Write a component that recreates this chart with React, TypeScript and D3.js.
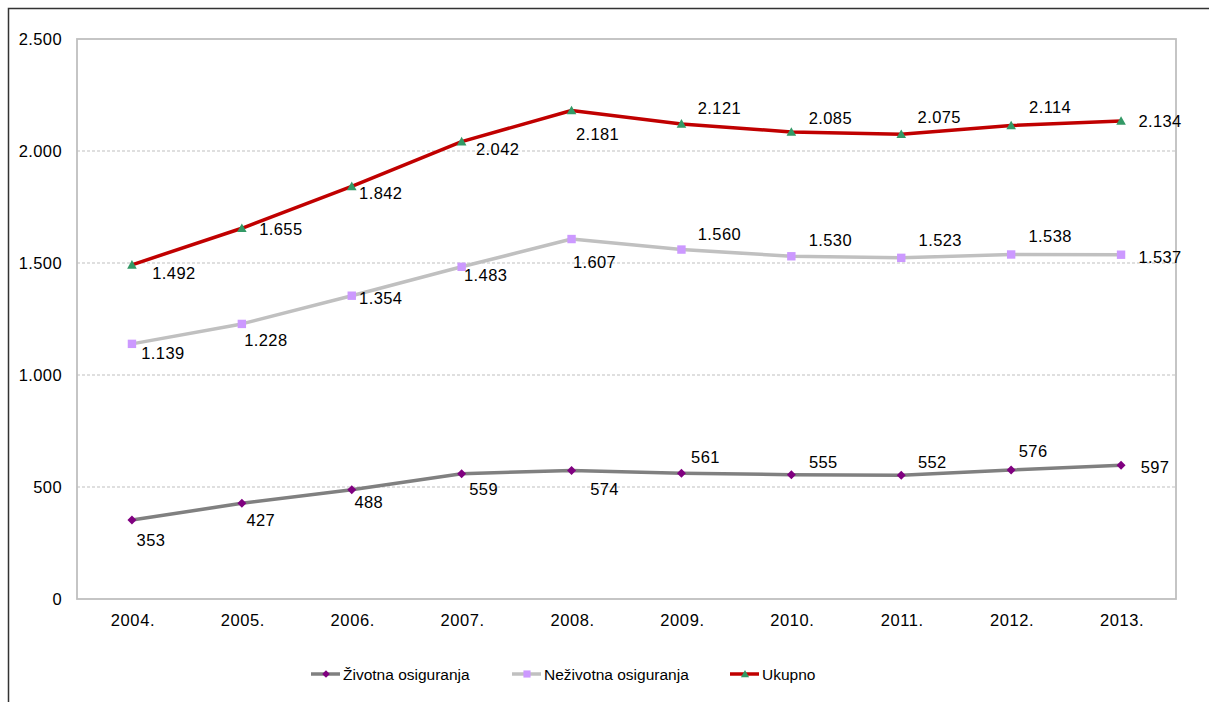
import React from "react";
import * as d3 from "d3";

const years = ["2004.", "2005.", "2006.", "2007.", "2008.", "2009.", "2010.", "2011.", "2012.", "2013."];
const zivotna = [353, 427, 488, 559, 574, 561, 555, 552, 576, 597];
const nezivotna = [1139, 1228, 1354, 1483, 1607, 1560, 1530, 1523, 1538, 1537];
const ukupno = [1492, 1655, 1842, 2042, 2181, 2121, 2085, 2075, 2114, 2134];
const yTicks = [0, 500, 1000, 1500, 2000, 2500];
const seriesNames = ["Životna osiguranja", "Neživotna osiguranja", "Ukupno"];

// label placement offsets (layout only)
const zivOff: [number, number][] = [[19, 20], [19, 17], [17, 12], [22, 15], [33, 19], [24, -16], [32, -13], [31, -13], [22, -19], [34, 2]];
const nezOff: [number, number][] = [[31, 9], [24, 16], [29, 2], [24, 8], [23, 23], [38, -16], [39, -16], [39, -18], [39, -18], [39, 2]];
const ukuOff: [number, number][] = [[42, 8], [39, 1], [29, 7], [36, 7], [26, 24], [38, -16], [39, -14], [38, -17], [39, -18], [39, 0]];

const fmt = (v: number) => {
  const s = String(v);
  return s.length > 3 ? s.slice(0, s.length - 3) + "." + s.slice(s.length - 3) : s;
};

const W = 1209, H = 702;
const L = 77, R = 1176, T = 39, B = 599;
const FONT = "'Liberation Sans', Arial, sans-serif";

function Marker({ type, x, y, s = 1 }: { type: string; x: number; y: number; s?: number }) {
  if (type === "diamond") {
    const r = 4.5 * s;
    return <path d={`M${x},${y - r}L${x + r},${y}L${x},${y + r}L${x - r},${y}Z`} fill="#800080" />;
  }
  if (type === "square") {
    const r = 4.2 * s;
    return <rect x={x - r} y={y - r} width={2 * r} height={2 * r} fill="#CC99FF" />;
  }
  const r = 4.8 * s;
  return <path d={`M${x},${y - r}L${x + r},${y + r * 0.8}L${x - r},${y + r * 0.8}Z`} fill="#339966" />;
}

export default function App() {
  const x = d3.scalePoint<string>().domain(years).range([L, R]).padding(0.5);
  const y = d3.scaleLinear().domain([0, 2500]).range([B, T]);
  const line = d3
    .line<number>()
    .x((_, i) => x(years[i]) as number)
    .y((d) => y(d));

  const series = [
    { name: seriesNames[0], data: zivotna, color: "#808080", marker: "diamond", off: zivOff },
    { name: seriesNames[1], data: nezivotna, color: "#C0C0C0", marker: "square", off: nezOff },
    { name: seriesNames[2], data: ukupno, color: "#C00000", marker: "triangle", off: ukuOff },
  ];

  const legendX = [311, 512, 730];

  return (
    <svg width={W} height={H} style={{ position: "absolute", left: 0, top: 0, display: "block", background: "#fff" }} fontFamily={FONT}>
      <rect x={0} y={0} width={W} height={H} fill="#fff" />
      <rect x={8.5} y={8.5} width={W + 20} height={H + 20} fill="none" stroke="#333" strokeWidth={1.5} />
      {yTicks.slice(1, -1).map((t) => (
        <line key={t} x1={L} x2={R} y1={y(t)} y2={y(t)} stroke="#BFBFBF" strokeWidth={1} strokeDasharray="3,2" />
      ))}
      <rect x={L} y={T} width={R - L} height={B - T} fill="none" stroke="#BFBFBF" strokeWidth={1.8} />
      {yTicks.map((t) => (
        <text key={t} x={62} y={y(t)} textAnchor="end" dominantBaseline="central" fontSize={16.5} letterSpacing={0.4} fill="#000">
          {fmt(t)}
        </text>
      ))}
      {years.map((yr) => (
        <text key={yr} x={(x(yr) as number) + 1} y={620} textAnchor="middle" dominantBaseline="central" fontSize={16.5} letterSpacing={0.6} fill="#000">
          {yr}
        </text>
      ))}
      {series.map((s) => (
        <g key={s.name}>
          <path d={line(s.data) as string} fill="none" stroke={s.color} strokeWidth={3.5} strokeLinejoin="round" />
          {s.data.map((v, i) => (
            <Marker key={i} type={s.marker} x={x(years[i]) as number} y={y(v)} />
          ))}
        </g>
      ))}
      {series.map((s) =>
        s.data.map((v, i) => (
          <text
            key={s.name + i}
            x={(x(years[i]) as number) + s.off[i][0]}
            y={y(v) + s.off[i][1]}
            textAnchor="middle"
            dominantBaseline="central"
            fontSize={16.5}
            letterSpacing={0.4}
            fill="#000"
          >
            {fmt(v)}
          </text>
        ))
      )}
      {series.map((s, i) => (
        <g key={"lg" + i}>
          <line x1={legendX[i]} x2={legendX[i] + 29} y1={674} y2={674} stroke={s.color} strokeWidth={3.5} />
          <Marker type={s.marker} x={legendX[i] + 15} y={674} s={0.85} />
          <text x={legendX[i] + 32} y={674} dominantBaseline="central" fontSize={15.5} fill="#000">
            {s.name}
          </text>
        </g>
      ))}
    </svg>
  );
}
